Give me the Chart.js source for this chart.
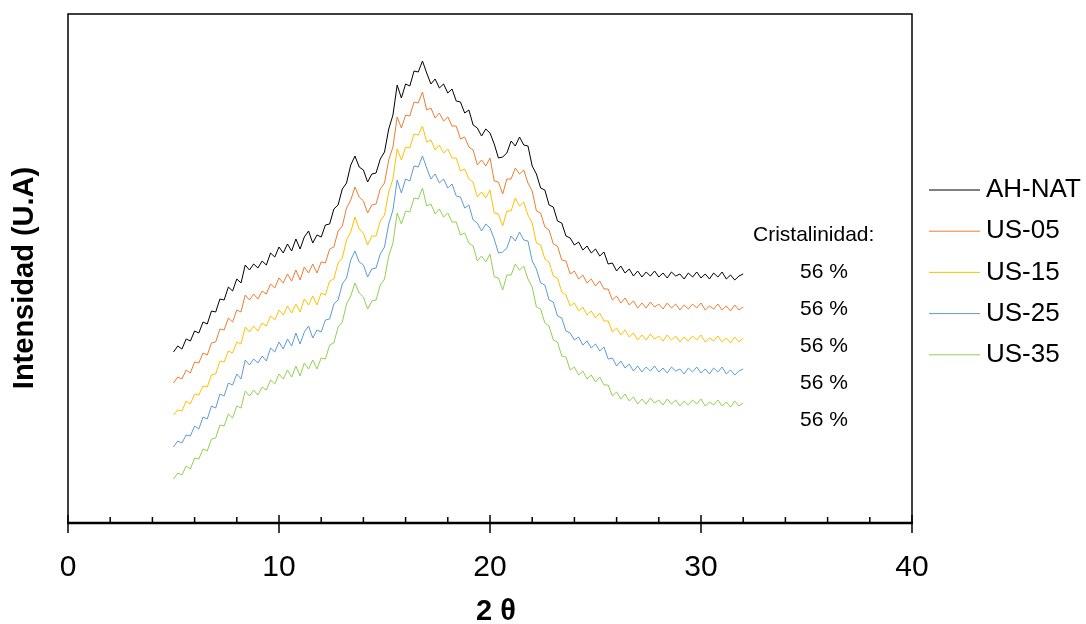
<!DOCTYPE html>
<html>
<head>
<meta charset="utf-8">
<script src="https://cdn.jsdelivr.net/npm/chart.js@4.4.1/dist/chart.umd.min.js"></script>
<style>
html, body { margin: 0; padding: 0; background: #fff; }
#wrap { width: 1086px; height: 624px; }
</style>
</head>
<body>
<div id="wrap"><canvas id="chart"></canvas></div>
<script>
// 2 theta (degrees)
const twoTheta = [
  5, 5.2, 5.4, 5.6, 5.8, 6, 6.2, 6.4, 6.6, 6.8, 7, 7.2, 7.4, 7.6, 7.8, 8, 8.2, 8.4, 8.6, 8.8,
  9, 9.2, 9.4, 9.6, 9.8, 10, 10.2, 10.4, 10.6, 10.8, 11, 11.2, 11.4, 11.6, 11.8, 12, 12.2, 12.4, 12.6, 12.8,
  13, 13.2, 13.4, 13.6, 13.8, 14, 14.2, 14.4, 14.6, 14.8, 15, 15.2, 15.4, 15.6, 15.8, 16, 16.2, 16.4, 16.6, 16.8,
  17, 17.2, 17.4, 17.6, 17.8, 18, 18.2, 18.4, 18.6, 18.8, 19, 19.2, 19.4, 19.6, 19.8, 20, 20.2, 20.4, 20.6, 20.8,
  21, 21.2, 21.4, 21.6, 21.8, 22, 22.2, 22.4, 22.6, 22.8, 23, 23.2, 23.4, 23.6, 23.8, 24, 24.2, 24.4, 24.6, 24.8,
  25, 25.2, 25.4, 25.6, 25.8, 26, 26.2, 26.4, 26.6, 26.8, 27, 27.2, 27.4, 27.6, 27.8, 28, 28.2, 28.4, 28.6, 28.8,
  29, 29.2, 29.4, 29.6, 29.8, 30, 30.2, 30.4, 30.6, 30.8, 31, 31.2, 31.4, 31.6, 31.8, 32
];

// intensity (arbitrary units, curves are stacked)
const ahNat = [
  171,177,174,184,182,192,190,201,199,212, 211,224,223,236,232,244,240,258,253,259,
  255,262,258,270,266,276,270,279,272,284, 274,286,292,280,288,286,298,299,314,318,
  334,340,358,367,356,353,341,349,350,364, 371,394,408,438,425,439,437,452,451,462,
  450,439,444,435,439,430,434,422,421,410, 413,398,395,387,394,390,379,365,366,370,
  382,377,386,378,377,357,349,335,333,318, 316,302,300,287,285,278,281,273,277,270,
  274,267,271,259,260,252,257,250,254,247, 252,246,251,247,252,246,250,245,251,247,
  249,244,250,246,251,245,249,244,250,246, 251,244,248,243,247,249
];
const us05 = [
  140,146,144,153,150,161,160,170,168,180, 181,194,193,205,201,213,211,228,223,229,
  224,232,229,239,235,245,240,249,242,253, 243,256,250,259,250,261,260,274,276,292,
  297,315,323,336,326,322,310,318,319,334, 340,363,376,406,395,408,407,421,420,431,
  413,415,405,410,402,406,397,397,384,386, 376,373,358,363,357,365,342,341,329,344,
  344,355,349,353,340,332,312,310,296,293, 279,277,263,262,249,252,244,248,240,244,
  237,242,234,234,223,227,220,225,218,222, 215,220,215,221,216,219,214,220,215,219,
  213,218,214,219,215,220,213,217,214,219, 213,217,212,218,213,216
];
const us15 = [
  108,113,112,122,119,129,128,137,136,148, 149,162,161,172,170,181,179,196,191,197,
  192,200,197,207,203,213,208,217,210,219, 211,224,218,227,218,230,228,242,244,260,
  265,283,291,306,294,290,278,287,287,302, 308,331,344,374,363,376,375,389,388,397,
  381,383,373,378,370,374,365,365,352,354, 344,341,326,331,325,333,310,309,297,312,
  312,325,317,321,308,300,280,278,264,261, 247,245,231,228,217,220,212,216,208,212,
  205,210,202,202,191,195,188,193,186,190, 183,188,183,189,184,187,182,188,183,187,
  181,186,182,187,183,188,181,185,182,187, 181,185,180,186,181,185
];
const us25 = [
  76,82,80,88,87,97,94,106,104,117, 115,129,127,140,138,149,144,163,158,164,
  160,167,162,175,171,181,174,184,177,190, 179,191,197,185,193,191,203,204,219,223,
  239,245,263,272,261,258,246,254,255,269, 276,299,313,343,330,344,342,357,356,367,
  355,344,349,340,344,335,339,327,326,315, 318,303,300,292,299,295,284,270,271,275,
  287,282,291,283,282,262,254,240,238,223, 221,207,205,192,190,183,186,178,182,175,
  179,172,176,164,165,157,162,155,159,152, 157,151,156,152,157,151,155,150,156,152,
  154,149,155,151,156,150,154,149,155,151, 156,149,153,148,152,154
];
const us35 = [
  44,50,48,57,54,65,64,74,72,84, 85,98,97,109,105,117,115,132,127,133,
  128,136,133,143,139,149,144,153,146,157, 147,160,154,163,154,165,164,178,180,196,
  201,219,227,240,230,226,214,222,223,238, 244,267,280,310,299,312,311,325,324,335,
  317,319,309,314,306,310,301,301,288,290, 280,277,262,267,261,269,246,245,233,248,
  248,259,253,257,244,236,216,214,200,197, 183,181,167,166,153,156,148,152,144,148,
  141,146,138,138,127,131,124,129,122,126, 119,124,119,125,120,123,118,124,119,123,
  117,122,118,123,119,124,117,121,118,123, 117,121,116,122,117,120
];

const seriesNames = ['AH-NAT', 'US-05', 'US-15', 'US-25', 'US-35'];
const seriesValues = [ahNat, us05, us15, us25, us35];
const seriesColors = ['#000000', '#ED7D31', '#FFC000', '#5B9BD5', '#92D050'];
const crystallinity = ['56 %', '56 %', '56 %', '56 %', '56 %'];
const minorTicks = [2, 4, 6, 8, 12, 14, 16, 18, 22, 24, 26, 28, 32, 34, 36, 38];
const majorTicks = [0, 10, 20, 30, 40];

const FONT = '"Liberation Sans", Arial, sans-serif';

const datasets = seriesNames.map((name, i) => ({
  label: name,
  data: twoTheta.map((x, j) => ({ x: x, y: seriesValues[i][j] })),
  borderColor: seriesColors[i],
  borderWidth: 1,
  pointRadius: 0,
  tension: 0,
  fill: false
}));

// frame, tick marks, legend and texts
const decorations = {
  id: 'decorations',
  afterDraw(chart) {
    const ctx = chart.ctx;
    const a = chart.chartArea;
    const xs = chart.scales.x;
    ctx.save();
    ctx.strokeStyle = '#000';
    ctx.lineWidth = 1.5;
    ctx.strokeRect(a.left, a.top, a.right - a.left, a.bottom - a.top);
    ctx.lineWidth = 2.5;
    ctx.beginPath();
    ctx.moveTo(a.left - 1, a.bottom);
    ctx.lineTo(a.right + 1, a.bottom);
    ctx.stroke();

    ctx.lineWidth = 1.5;
    majorTicks.forEach(v => {
      const px = xs.getPixelForValue(v);
      ctx.beginPath();
      ctx.moveTo(px, a.bottom - 8);
      ctx.lineTo(px, a.bottom + 10);
      ctx.stroke();
    });
    minorTicks.forEach(v => {
      const px = xs.getPixelForValue(v);
      ctx.beginPath();
      ctx.moveTo(px, a.bottom - 6);
      ctx.lineTo(px, a.bottom);
      ctx.stroke();
    });

    // legend
    ctx.textBaseline = 'middle';
    ctx.textAlign = 'left';
    ctx.font = '26px ' + FONT;
    seriesNames.forEach((name, i) => {
      const y = 190 + i * 41.2;
      ctx.strokeStyle = seriesColors[i];
      ctx.lineWidth = 1;
      ctx.beginPath();
      ctx.moveTo(929, y);
      ctx.lineTo(980, y);
      ctx.stroke();
      ctx.fillStyle = '#000';
      ctx.fillText(name, 986, y);
    });

    // crystallinity notes
    ctx.font = '21px ' + FONT;
    ctx.fillText('Cristalinidad:', 753, 235);
    ctx.textAlign = 'center';
    crystallinity.forEach((t, i) => {
      ctx.fillText(t, 824, 272 + i * 37);
    });

    // axis titles
    ctx.font = 'bold 29px ' + FONT;
    ctx.fillText('2 θ', 496, 612);
    ctx.translate(25, 278);
    ctx.rotate(-Math.PI / 2);
    ctx.fillText('Intensidad (U.A)', 0, 0);
    ctx.restore();
  }
};

new Chart(document.getElementById('chart'), {
  type: 'line',
  data: { datasets: datasets },
  options: {
    responsive: true,
    maintainAspectRatio: false,
    animation: false,
    layout: { padding: { left: 68, top: 14, right: 174, bottom: 0 } },
    plugins: { legend: { display: false }, tooltip: { enabled: false } },
    scales: {
      x: {
        type: 'linear',
        min: 0,
        max: 40,
        grid: { display: false },
        border: { display: false },
        ticks: { stepSize: 10, color: '#000', font: { family: FONT, size: 30 }, padding: 19, maxRotation: 0 },
        afterFit(scale) { scale.height = 101; }
      },
      y: {
        display: false,
        min: 0,
        max: 509
      }
    }
  },
  plugins: [decorations]
});
</script>
</body>
</html>
